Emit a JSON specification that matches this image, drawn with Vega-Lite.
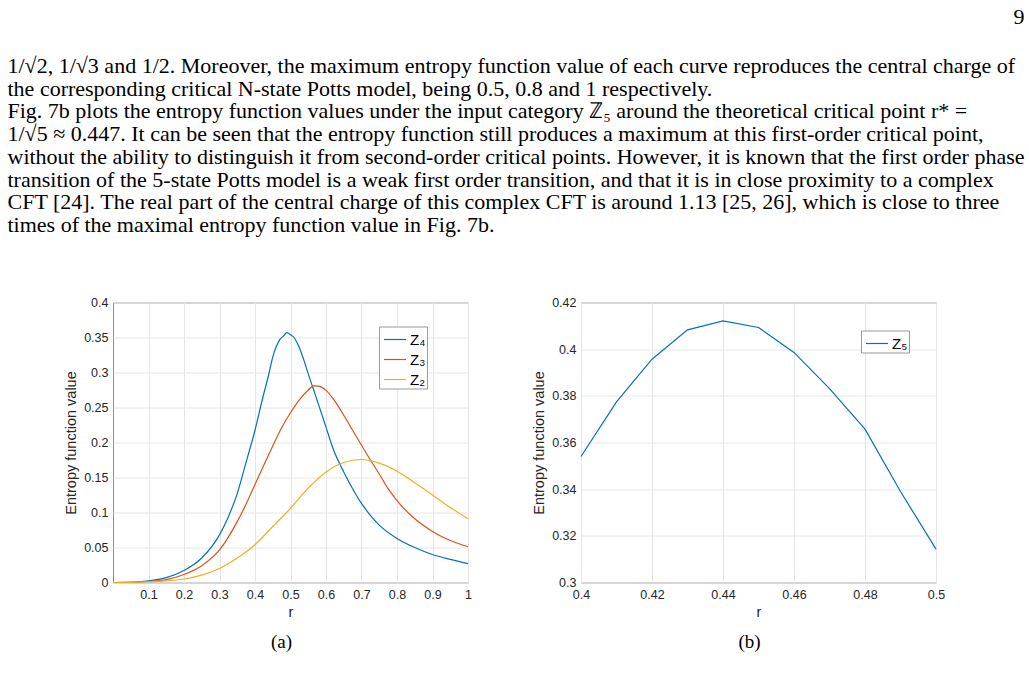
{
  "$schema": "https://vega.github.io/schema/vega-lite/v6.json",
  "background": "white",
  "padding": {"left": 7, "top": 5, "right": 0, "bottom": 0},
  "config": {
    "font": "Liberation Sans",
    "view": {"stroke": "#8c8c8c", "strokeWidth": 1},
    "axis": {
      "labelFont": "Liberation Sans", "labelFontSize": 12.5, "labelColor": "#262626",
      "titleFont": "Liberation Sans", "titleFontSize": 14.5, "titleFontWeight": "normal", "titleColor": "#262626",
      "gridColor": "#e6e6e6", "gridOpacity": 1, "gridWidth": 1,
      "domain": false, "ticks": false, "labelPadding": 5, "titlePadding": 5
    },
    "axisX": {"labelPadding": 5.5, "titlePadding": 5, "labelFlush": false},
    "legend": {
      "title": null, "symbolType": "stroke", "symbolSize": 484, "symbolStrokeWidth": 1.2, "symbolOffset": 3,
      "labelFont": "Liberation Sans", "labelFontSize": 15, "labelColor": "#000000",
      "labelExpr": "datum.label + ' '",
      "strokeColor": "#999999", "fillColor": "white", "padding": 1, "rowPadding": 0, "labelOffset": 3
    }
  },
  "datasets": {
    "text": [
      {"line": 1, "text": "1/√2, 1/√3 and 1/2. Moreover, the maximum entropy function value of each curve reproduces the central charge of"},
      {"line": 2, "text": "the corresponding critical N-state Potts model, being 0.5, 0.8 and 1 respectively."},
      {"line": 3, "text": "\u2002\u2005Fig. 7b plots the entropy function values under the input category ℤ₅ around the theoretical critical point r* ="},
      {"line": 4, "text": "1/√5 ≈ 0.447. It can be seen that the entropy function still produces a maximum at this first-order critical point,"},
      {"line": 5, "text": "without the ability to distinguish it from second-order critical points. However, it is known that the first order phase"},
      {"line": 6, "text": "transition of the 5-state Potts model is a weak first order transition, and that it is in close proximity to a complex"},
      {"line": 7, "text": "CFT [24]. The real part of the central charge of this complex CFT is around 1.13 [25, 26], which is close to three"},
      {"line": 8, "text": "times of the maximal entropy function value in Fig. 7b."}
    ],
    "a": [
      {"r": 0, "series": "Z₄", "value": 0},
      {"r": 0.05, "series": "Z₄", "value": 0.0003},
      {"r": 0.1, "series": "Z₄", "value": 0.0025},
      {"r": 0.15, "series": "Z₄", "value": 0.007},
      {"r": 0.2, "series": "Z₄", "value": 0.0172},
      {"r": 0.25, "series": "Z₄", "value": 0.035},
      {"r": 0.3, "series": "Z₄", "value": 0.068},
      {"r": 0.325, "series": "Z₄", "value": 0.094},
      {"r": 0.35, "series": "Z₄", "value": 0.127},
      {"r": 0.375, "series": "Z₄", "value": 0.172},
      {"r": 0.4, "series": "Z₄", "value": 0.2175},
      {"r": 0.42, "series": "Z₄", "value": 0.26},
      {"r": 0.44, "series": "Z₄", "value": 0.3},
      {"r": 0.45, "series": "Z₄", "value": 0.322},
      {"r": 0.46, "series": "Z₄", "value": 0.337},
      {"r": 0.47, "series": "Z₄", "value": 0.347},
      {"r": 0.48, "series": "Z₄", "value": 0.352},
      {"r": 0.49, "series": "Z₄", "value": 0.357},
      {"r": 0.5, "series": "Z₄", "value": 0.354},
      {"r": 0.51, "series": "Z₄", "value": 0.35},
      {"r": 0.52, "series": "Z₄", "value": 0.341},
      {"r": 0.53, "series": "Z₄", "value": 0.329},
      {"r": 0.54, "series": "Z₄", "value": 0.314},
      {"r": 0.55, "series": "Z₄", "value": 0.298},
      {"r": 0.57, "series": "Z₄", "value": 0.268},
      {"r": 0.6, "series": "Z₄", "value": 0.222},
      {"r": 0.62, "series": "Z₄", "value": 0.191},
      {"r": 0.65, "series": "Z₄", "value": 0.158},
      {"r": 0.675, "series": "Z₄", "value": 0.134},
      {"r": 0.7, "series": "Z₄", "value": 0.113},
      {"r": 0.725, "series": "Z₄", "value": 0.096},
      {"r": 0.75, "series": "Z₄", "value": 0.082},
      {"r": 0.8, "series": "Z₄", "value": 0.063},
      {"r": 0.85, "series": "Z₄", "value": 0.05},
      {"r": 0.9, "series": "Z₄", "value": 0.04},
      {"r": 0.95, "series": "Z₄", "value": 0.033},
      {"r": 1, "series": "Z₄", "value": 0.027},
      {"r": 0, "series": "Z₃", "value": 0},
      {"r": 0.05, "series": "Z₃", "value": 0.0002},
      {"r": 0.1, "series": "Z₃", "value": 0.0014},
      {"r": 0.15, "series": "Z₃", "value": 0.0042},
      {"r": 0.2, "series": "Z₃", "value": 0.0115},
      {"r": 0.25, "series": "Z₃", "value": 0.024},
      {"r": 0.3, "series": "Z₃", "value": 0.0465},
      {"r": 0.35, "series": "Z₃", "value": 0.087},
      {"r": 0.375, "series": "Z₃", "value": 0.112},
      {"r": 0.4, "series": "Z₃", "value": 0.14},
      {"r": 0.425, "series": "Z₃", "value": 0.168},
      {"r": 0.45, "series": "Z₃", "value": 0.195},
      {"r": 0.475, "series": "Z₃", "value": 0.221},
      {"r": 0.5, "series": "Z₃", "value": 0.2425},
      {"r": 0.525, "series": "Z₃", "value": 0.261},
      {"r": 0.55, "series": "Z₃", "value": 0.275},
      {"r": 0.565, "series": "Z₃", "value": 0.281},
      {"r": 0.58, "series": "Z₃", "value": 0.2805},
      {"r": 0.6, "series": "Z₃", "value": 0.2745},
      {"r": 0.62, "series": "Z₃", "value": 0.2626},
      {"r": 0.65, "series": "Z₃", "value": 0.239},
      {"r": 0.675, "series": "Z₃", "value": 0.2175},
      {"r": 0.7, "series": "Z₃", "value": 0.196},
      {"r": 0.725, "series": "Z₃", "value": 0.175},
      {"r": 0.75, "series": "Z₃", "value": 0.155},
      {"r": 0.775, "series": "Z₃", "value": 0.134},
      {"r": 0.8, "series": "Z₃", "value": 0.117},
      {"r": 0.85, "series": "Z₃", "value": 0.091},
      {"r": 0.9, "series": "Z₃", "value": 0.073},
      {"r": 0.95, "series": "Z₃", "value": 0.06},
      {"r": 1, "series": "Z₃", "value": 0.051},
      {"r": 0, "series": "Z₂", "value": 0},
      {"r": 0.05, "series": "Z₂", "value": 0.0001},
      {"r": 0.1, "series": "Z₂", "value": 0.0008},
      {"r": 0.15, "series": "Z₂", "value": 0.0022},
      {"r": 0.2, "series": "Z₂", "value": 0.005},
      {"r": 0.25, "series": "Z₂", "value": 0.0105},
      {"r": 0.3, "series": "Z₂", "value": 0.02},
      {"r": 0.35, "series": "Z₂", "value": 0.035},
      {"r": 0.4, "series": "Z₂", "value": 0.054},
      {"r": 0.45, "series": "Z₂", "value": 0.08},
      {"r": 0.5, "series": "Z₂", "value": 0.106},
      {"r": 0.55, "series": "Z₂", "value": 0.135},
      {"r": 0.6, "series": "Z₂", "value": 0.158},
      {"r": 0.65, "series": "Z₂", "value": 0.1715},
      {"r": 0.7, "series": "Z₂", "value": 0.1757},
      {"r": 0.75, "series": "Z₂", "value": 0.1705},
      {"r": 0.8, "series": "Z₂", "value": 0.159},
      {"r": 0.85, "series": "Z₂", "value": 0.1425},
      {"r": 0.9, "series": "Z₂", "value": 0.125},
      {"r": 0.95, "series": "Z₂", "value": 0.107},
      {"r": 1, "series": "Z₂", "value": 0.0912}
    ],
    "b": [
      {"r": 0.4, "series": "Z₅", "value": 0.354},
      {"r": 0.41, "series": "Z₅", "value": 0.3774},
      {"r": 0.42, "series": "Z₅", "value": 0.3957},
      {"r": 0.43, "series": "Z₅", "value": 0.4083},
      {"r": 0.44, "series": "Z₅", "value": 0.4121},
      {"r": 0.45, "series": "Z₅", "value": 0.4093},
      {"r": 0.46, "series": "Z₅", "value": 0.3986},
      {"r": 0.47, "series": "Z₅", "value": 0.3831},
      {"r": 0.48, "series": "Z₅", "value": 0.3657},
      {"r": 0.49, "series": "Z₅", "value": 0.339},
      {"r": 0.5, "series": "Z₅", "value": 0.3143}
    ]
  },
  "spacing": 59.5,
  "vconcat": [
    {
      "width": 910,
      "height": 159,
      "view": {"stroke": null},
      "title": {"text": "9", "anchor": "end", "font": "Liberation Serif", "fontSize": 22, "fontWeight": "normal", "color": "#000000", "baseline": "alphabetic", "offset": 9.5},
      "data": {"name": "text"},
      "mark": {"type": "text", "align": "left", "baseline": "middle", "font": "Liberation Serif", "fontSize": 22, "color": "#000000", "dx": -105.5},
      "encoding": {
        "x": {"datum": 0, "type": "quantitative", "scale": {"domain": [0, 1]}, "axis": null},
        "y": {"field": "line", "type": "quantitative", "scale": {"domain": [1, 8], "reverse": true, "nice": false, "zero": false}, "axis": null},
        "text": {"field": "text"}
      }
    },
    {
      "spacing": 59,
      "resolve": {"scale": {"color": "independent"}, "legend": {"color": "independent"}},
      "hconcat": [
        {
          "width": 355,
          "height": 280,
          "title": {"text": "(a)", "orient": "bottom", "font": "Liberation Serif", "fontSize": 19, "fontWeight": "normal", "color": "#000000", "dx": -9, "offset": 13.5},
          "data": {"name": "a"},
          "mark": {"type": "line", "interpolate": "monotone", "strokeWidth": 1.2},
          "encoding": {
            "x": {"field": "r", "type": "quantitative", "scale": {"domain": [0, 1], "nice": false}, "axis": {"values": [0.1, 0.2, 0.3, 0.4, 0.5, 0.6, 0.7, 0.8, 0.9, 1], "format": "~g", "title": "r"}},
            "y": {"field": "value", "type": "quantitative", "scale": {"domain": [0, 0.4], "nice": false}, "axis": {"values": [0, 0.05, 0.1, 0.15, 0.2, 0.25, 0.3, 0.35, 0.4], "format": "~g", "title": "Entropy function value"}},
            "color": {"field": "series", "type": "nominal", "scale": {"domain": ["Z₄", "Z₃", "Z₂"], "range": ["#0072BD", "#D95319", "#EDB120"]}, "legend": {"orient": "none", "legendX": 266, "legendY": 24}}
          }
        },
        {
          "width": 355,
          "height": 280,
          "title": {"text": "(b)", "orient": "bottom", "font": "Liberation Serif", "fontSize": 19, "fontWeight": "normal", "color": "#000000", "dx": -9, "offset": 13.5},
          "data": {"name": "b"},
          "mark": {"type": "line", "strokeWidth": 1.2},
          "encoding": {
            "x": {"field": "r", "type": "quantitative", "scale": {"domain": [0.4, 0.5], "nice": false, "zero": false}, "axis": {"values": [0.4, 0.42, 0.44, 0.46, 0.48, 0.5], "format": "~g", "title": "r"}},
            "y": {"field": "value", "type": "quantitative", "scale": {"domain": [0.3, 0.42], "nice": false, "zero": false}, "axis": {"values": [0.3, 0.32, 0.34, 0.36, 0.38, 0.4, 0.42], "format": "~g", "title": "Entropy function value"}},
            "color": {"field": "series", "type": "nominal", "scale": {"domain": ["Z₅"], "range": ["#0072BD"]}, "legend": {"orient": "none", "legendX": 280, "legendY": 28}}
          }
        }
      ]
    }
  ]
}
